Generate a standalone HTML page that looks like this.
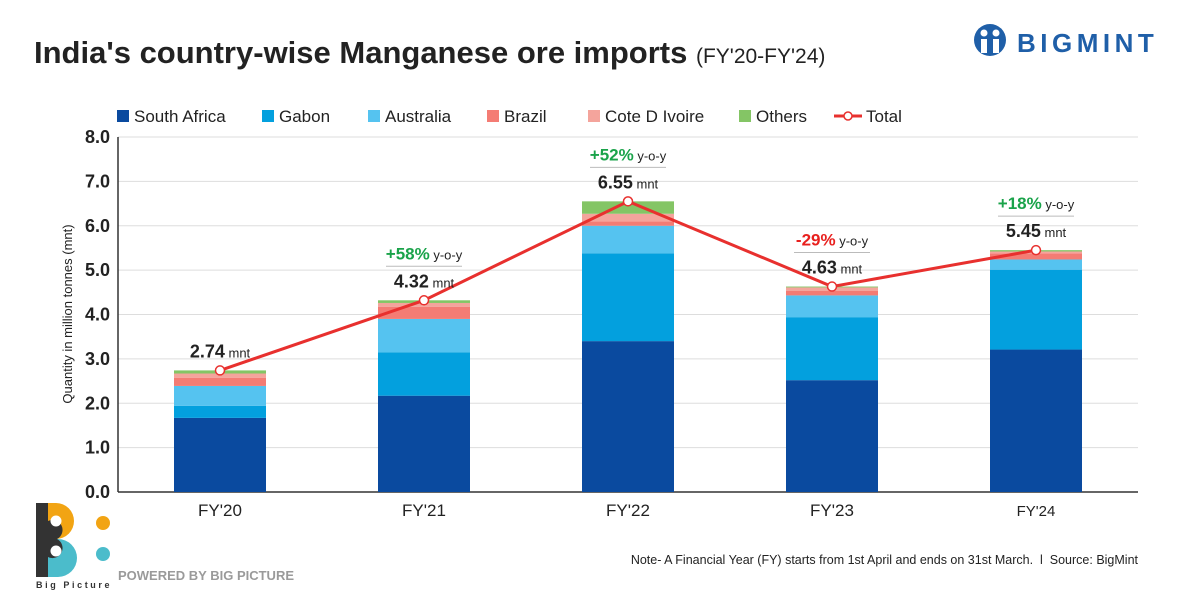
<!DOCTYPE html>
<html><head><meta charset="utf-8"><style>
body{margin:0;background:#fff;width:1200px;height:600px;overflow:hidden;font-family:"Liberation Sans",sans-serif}
</style></head><body>
<svg width="1200" height="600" xmlns="http://www.w3.org/2000/svg" font-family="Liberation Sans, sans-serif">
<text x="34" y="63" font-size="31" font-weight="bold" fill="#222">India's country-wise Manganese ore imports <tspan font-size="21" font-weight="normal">(FY'20-FY'24)</tspan></text>
<g>
<circle cx="990" cy="40" r="16" fill="#1f5fa8"/>
<circle cx="984" cy="33" r="3.5" fill="#fff"/><circle cx="996" cy="33" r="3.5" fill="#fff"/>
<rect x="981" y="39" width="6" height="14" fill="#fff"/><rect x="993" y="39" width="6" height="14" fill="#fff"/>
<text x="1017" y="52" font-size="26" font-weight="bold" fill="#1f5fa8" letter-spacing="4.5">BIGMINT</text>
</g>
<g id="legend"></g>
<g id="grid"></g><g id="bars"></g><g id="line"></g><g id="labels"></g>
<text transform="translate(72,314) rotate(-90)" text-anchor="middle" font-size="13" fill="#222">Quantity in million tonnes (mnt)</text>
<g>
<path d="M36 503 h12 v74 h-12 z" fill="#333"/>
<path d="M48 503 h8 a18 18 0 0 1 0 36 h-8z" fill="#f2a413"/>
<path d="M48 539 h10 a19 19 0 0 1 0 38 h-10z" fill="#4bbccb"/>
<path d="M48 521 a9 9 0 0 1 9 18 a9 9 0 0 1 -9 18z" fill="#333"/>
<circle cx="56" cy="521" r="5.5" fill="#fff"/><circle cx="56" cy="551" r="5.5" fill="#fff"/>
<circle cx="103" cy="523" r="7" fill="#f2a413"/><circle cx="103" cy="554" r="7" fill="#4bbccb"/>
<text x="36" y="588" font-size="9" font-weight="bold" fill="#333" letter-spacing="2.6">Big Picture</text>
<text x="118" y="580" font-size="13" font-weight="bold" fill="#9a9a9a">POWERED BY BIG PICTURE</text>
</g>
<text x="1138" y="564" text-anchor="end" font-size="12.5" fill="#222" xml:space="preserve">Note- A Financial Year (FY) starts from 1st April and ends on 31st March.  l  Source: BigMint</text>
</svg>
<script>
const categories=["FY'20","FY'21","FY'22","FY'23","FY'24"];
const southAfrica=[1.67,2.17,3.40,2.52,3.21];
const gabon=[0.27,0.98,1.98,1.42,1.80];
const australia=[0.45,0.75,0.62,0.49,0.23];
const brazil=[0.18,0.27,0.10,0.10,0.14];
const coteDIvoire=[0.10,0.09,0.17,0.08,0.04];
const others=[0.07,0.06,0.28,0.02,0.03];
const totals=[2.74,4.32,6.55,4.63,5.45];
const yoy=[null,"+58%","+52%","-29%","+18%"];
const yTicks=[0,1,2,3,4,5,6,7,8];
const seriesNames=["South Africa","Gabon","Australia","Brazil","Cote D Ivoire","Others"];
const series=[southAfrica,gabon,australia,brazil,coteDIvoire,others];
const colors=["#0a4a9f","#03a0de","#55c3f0","#f47c74","#f4a49c","#84c565"];
const NS="http://www.w3.org/2000/svg";
const x0=118,x1=1138,yBase=492,yTop=137,yMax=8;
const y=v=>yBase-(yBase-yTop)*v/yMax;
const band=(x1-x0)/categories.length;
const xc=i=>x0+band*(i+0.5);
const bw=92;
function mk(t,a,p){const e=document.createElementNS(NS,t);for(const k in a)e.setAttribute(k,a[k]);p.appendChild(e);return e;}
const grid=document.getElementById('grid');
yTicks.forEach(t=>{
 const l=mk('line',{x1:x0,x2:x1,y1:y(t),y2:y(t),stroke:t===0?'#333':'#ddd','stroke-width':t===0?1.5:1},grid);
 
 
 const tx=mk('text',{x:x0-8,y:y(t)+6,'text-anchor':'end','font-size':18,'font-weight':'bold',fill:'#222'},grid);
 tx.textContent=t.toFixed(1);
 
 
});
mk('line',{x1:x0,x2:x0,y1:yTop,y2:yBase,stroke:'#333','stroke-width':1.5},grid);
const bars=document.getElementById('bars');
categories.forEach((c,i)=>{
 let acc=0;
 series.forEach((s,k)=>{
  const r=mk('rect',{x:xc(i)-bw/2,y:y(acc+s[i]),width:bw,height:y(acc)-y(acc+s[i]),fill:colors[k]},bars);
  
  
  acc+=s[i];
 });
 const t=mk('text',{x:xc(i),y:516,'text-anchor':'middle','font-size':i===4?15:17,fill:'#222'},bars);
 t.textContent=c;
 
 
});
const line=document.getElementById('line');
const pl=mk('polyline',{points:totals.map((v,i)=>xc(i)+','+y(v)).join(' '),fill:'none',stroke:'#e8302e','stroke-width':3},line);


const labels=document.getElementById('labels');
totals.forEach((v,i)=>{
 const p=mk('circle',{cx:xc(i),cy:y(v),r:4.5,fill:'#fff',stroke:'#e8302e','stroke-width':1.5},line);
 
 
 const py=y(v);
 const t=mk('text',{x:xc(i),y:py-13,'text-anchor':'middle',fill:'#222'},labels);
 t.innerHTML='<tspan font-size="18" font-weight="bold">'+v.toFixed(2)+'</tspan><tspan font-size="13"> mnt</tspan>';
 
 
 if(yoy[i]){
  mk('line',{x1:xc(i)-38,x2:xc(i)+38,y1:py-34,y2:py-34,stroke:'#bbb','stroke-width':1},labels);
  const g=mk('text',{x:xc(i),y:py-41,'text-anchor':'middle'},labels);
  const col=yoy[i][0]==='-'?'#e8201e':'#1aa34a';
  g.innerHTML='<tspan font-size="17" font-weight="bold" fill="'+col+'">'+yoy[i]+'</tspan><tspan font-size="13" fill="#222"> y-o-y</tspan>';
  
  
 }
});
const lg=document.getElementById('legend');
const lx=[117,262,368,487,588,739];
seriesNames.forEach((n,k)=>{
 const r=mk('rect',{x:lx[k],y:110,width:12,height:12,fill:colors[k]},lg);
 
 
 const t=mk('text',{x:lx[k]+17,y:122,'font-size':17,fill:'#222'},lg);
 t.textContent=n;
 
 
});
mk('line',{x1:834,x2:862,y1:116,y2:116,stroke:'#e8302e','stroke-width':3},lg);
mk('circle',{cx:848,cy:116,r:4,fill:'#fff',stroke:'#e8302e','stroke-width':1.5},lg);
const tt=mk('text',{x:866,y:122,'font-size':17,fill:'#222'},lg);
tt.textContent='Total';


</script>
</body></html>
